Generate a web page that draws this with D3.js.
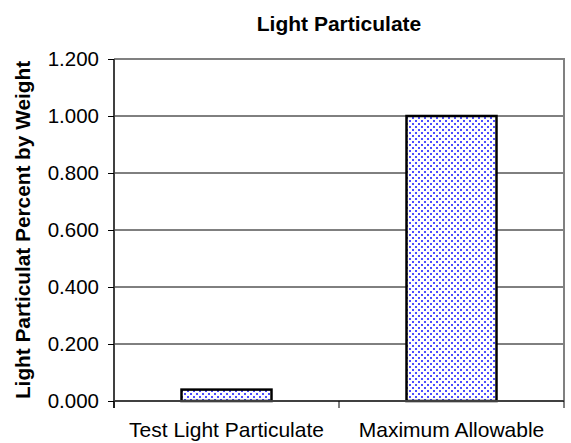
<!DOCTYPE html>
<meta charset="utf-8">
<script src="https://d3js.org/d3.v7.min.js"></script>
<style>
  body { margin: 0; background: #fff; }
  text { font-family: Arial, "Liberation Sans", sans-serif; fill: #000; }
</style>
<div id="chart"></div>
<script>
    // chart data
    var categories = ["Test Light Particulate", "Maximum Allowable"];
    var values = [0.04, 1.0];
    var yTicks = [0, 0.2, 0.4, 0.6, 0.8, 1.0, 1.2];

    var W = 571, H = 443;
    var margin = {top: 59, right: 7, bottom: 42, left: 114},
        width = W - margin.left - margin.right,
        height = H - margin.top - margin.bottom;

    var svg = d3.select("#chart").append("svg")
        .attr("width", W).attr("height", H);

    // dotted fill like the original
    var pat = svg.append("defs").append("pattern")
        .attr("id", "dots").attr("patternUnits", "userSpaceOnUse")
        .attr("width", 6).attr("height", 6);
    pat.append("rect").attr("width", 6).attr("height", 6).attr("fill", "#fff");
    pat.append("rect").attr("x", 1).attr("y", 1).attr("width", 2).attr("height", 2).attr("fill", "#4d4dff");
    pat.append("rect").attr("x", 4).attr("y", 4).attr("width", 2).attr("height", 2).attr("fill", "#4d4dff");

    var g = svg.append("g")
        .attr("transform", "translate(" + margin.left + "," + margin.top + ")");

    var x = d3.scaleBand().domain(categories).range([0, width]).paddingInner(0.6).paddingOuter(0.3);
    var y = d3.scaleLinear().domain([0, 1.2]).range([height, 0]);

    // gridlines
    g.selectAll(".grid").data(yTicks.filter(function(d) { return d > 0 && d < 1.2; }))
        .enter().append("line")
        .attr("x1", 0).attr("x2", width)
        .attr("y1", function(d) { return y(d); }).attr("y2", function(d) { return y(d); })
        .attr("stroke", "#000").attr("stroke-width", 1);

    // plot border top/right
    g.append("path")
        .attr("d", "M0," + y(1.2) + "H" + width + "V" + height)
        .attr("fill", "none").attr("stroke", "#808080").attr("stroke-width", 2);

    // bars
    g.selectAll(".bar").data(values).enter().append("rect")
        .attr("x", function(d, i) { return x(categories[i]); })
        .attr("width", x.bandwidth())
        .attr("y", function(d) { return y(d); })
        .attr("height", function(d) { return y(0) - y(d); })
        .attr("fill", "url(#dots)")
        .attr("stroke", "#000").attr("stroke-width", 2.5);

    // y axis
    var yAxis = g.append("g")
        .call(d3.axisLeft(y).tickValues(yTicks).tickSize(6).tickPadding(9)
            .tickFormat(d3.format(".3f")));
    yAxis.select(".domain").attr("stroke", "#404040").attr("stroke-width", 2)
        .attr("d", "M0," + (height + 7) + "V" + y(1.2));
    yAxis.selectAll(".tick line").attr("stroke", "#000");
    yAxis.selectAll(".tick text").style("font-size", "20.5px")
        .style("font-family", "Arial, 'Liberation Sans', sans-serif").attr("fill", "#000");

    // x axis
    var xb = d3.scalePoint().domain([0, 1, 2]).range([0, width]);
    var xAxis = g.append("g").attr("transform", "translate(0," + height + ")");
    xAxis.append("line").attr("x1", 0).attr("x2", width)
        .attr("stroke", "#404040").attr("stroke-width", 2);
    xAxis.selectAll(".xt").data([0, 1, 2]).enter().append("line")
        .attr("x1", function(d) { return xb(d); }).attr("x2", function(d) { return xb(d); })
        .attr("y1", 0).attr("y2", 7).attr("stroke", "#000");
    xAxis.selectAll(".xl").data(categories).enter().append("text")
        .attr("x", function(d) { return x(d) + x.bandwidth() / 2; })
        .attr("y", 36)
        .attr("text-anchor", "middle")
        .style("font-size", "21px")
        .text(function(d) { return d; });

    // title
    svg.append("text")
        .attr("x", margin.left + width / 2).attr("y", 31)
        .attr("text-anchor", "middle")
        .style("font-size", "21px").style("font-weight", "bold")
        .text("Light Particulate");

    // y label
    svg.append("text")
        .attr("transform", "translate(30," + (margin.top + height / 2) + ") rotate(-90)")
        .attr("text-anchor", "middle")
        .style("font-size", "20.8px").style("font-weight", "bold")
        .text("Light Particulat Percent by Weight");
</script>
